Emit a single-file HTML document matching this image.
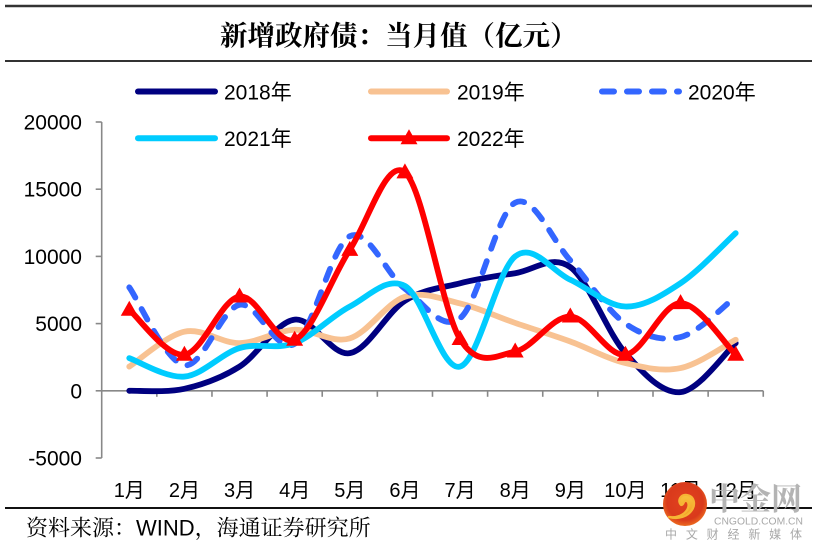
<!DOCTYPE html>
<html><head><meta charset="utf-8">
<style>
html,body{margin:0;padding:0;background:#fff;}
body{width:819px;height:552px;overflow:hidden;}
svg{display:block;}
.t{font-family:"Liberation Sans","Noto Sans CJK SC",sans-serif;fill:#000;}
</style></head>
<body>
<svg id="c" width="819" height="552" viewBox="0 0 819 552" xmlns="http://www.w3.org/2000/svg">
<defs>
<radialGradient id="lg" cx="50%" cy="45%" r="55%">
<stop offset="0%" stop-color="#e2421e"/>
<stop offset="75%" stop-color="#d93a1c"/>
<stop offset="100%" stop-color="#ec6a1f"/>
</radialGradient>
<linearGradient id="yg" x1="0" y1="0" x2="0" y2="1">
<stop offset="0%" stop-color="#f7c43e"/>
<stop offset="100%" stop-color="#f29a22"/>
</linearGradient>
</defs>
<rect width="819" height="552" fill="#fff"/>
<!-- frame lines -->
<line x1="5" y1="6" x2="812" y2="6" stroke="#333" stroke-width="2.5"/>
<line x1="5" y1="61" x2="812" y2="61" stroke="#333" stroke-width="2"/>
<line x1="5" y1="508" x2="812" y2="508" stroke="#111" stroke-width="2"/>
<!-- title -->
<text x="220" y="45" style="font-family:'Noto Serif CJK SC','Noto Sans CJK SC',serif;font-weight:bold;font-size:27.5px;fill:#000;">新增政府债：当月值（亿元）</text>
<!-- axes -->
<g id="axes" stroke="#888" stroke-width="1.6" fill="none"></g>
<g id="ylab"></g>
<g id="xlab"></g>
<g id="series"></g>
<!-- legend -->
<g id="legend"></g>
<!-- footer -->
<text x="26" y="535.5" style="font-family:'Liberation Sans','Noto Serif CJK SC',serif;font-size:22px;fill:#000;">资料来源：WIND，海通证券研究所</text>
<!-- watermark -->
<circle cx="685" cy="504" r="22" fill="url(#lg)"/>
<path d="M681,505 C677,500 681,494 687,495 C694,496 696,504 692,510 C688,516 679,520 669,517 C677,518 684,515 687,510 C690,505 688,500 685,501 C683,502 684,505 681,505 Z" fill="url(#yg)" stroke="#f6b535" stroke-width="2.2" stroke-linejoin="round"/>
<text x="709" y="510" style="font-family:'Noto Serif CJK SC','Noto Sans CJK SC',serif;font-weight:bold;font-size:31px;fill:#b4b4b4;">中金网</text>
<text x="714" y="524.5" textLength="89" lengthAdjust="spacingAndGlyphs" style="font-family:'Liberation Sans',sans-serif;font-size:10px;fill:#a8a8a8;">CNGOLD.COM.CN</text>
<text x="665" y="538.5" textLength="137" lengthAdjust="spacing" style="font-family:'Noto Sans CJK SC',sans-serif;font-size:12px;fill:#a8a8a8;">中文财经新媒体</text>
</svg>
<script>
(function(){
var NS="http://www.w3.org/2000/svg";
function el(tag,attrs,parent,txt){var e=document.createElementNS(NS,tag);for(var k in attrs)e.setAttribute(k,attrs[k]);if(txt!=null)e.textContent=txt;parent.appendChild(e);return e;}
var X0=101.7,CW=55.13,Y0=390.8,K=67.2/5000;
function cx(i){return X0+CW*(i+0.5);}
function cy(v){return Y0-v*K;}
var axes=document.getElementById('axes');
// y axis
el('line',{x1:X0,y1:cy(20000),x2:X0,y2:cy(-5000)},axes);
var ylab=document.getElementById('ylab');
for(var v=-5000;v<=20000;v+=5000){
  el('line',{x1:X0-6,y1:cy(v),x2:X0,y2:cy(v)},axes);
  el('text',{x:82,y:cy(v)+7.5,'text-anchor':'end','class':'t','font-size':'21'},ylab,String(v));
}
// x axis
var XE=X0+CW*12;
el('line',{x1:X0,y1:Y0,x2:XE,y2:Y0},axes);
for(var k=1;k<=12;k++){el('line',{x1:X0+CW*k,y1:Y0,x2:X0+CW*k,y2:Y0+6},axes);}
var xlab=document.getElementById('xlab');
for(var i=0;i<12;i++){el('text',{x:cx(i),y:497,'text-anchor':'middle','class':'t','font-size':'20'},xlab,(i+1)+'月');}
var data=[
 {c:'#000080',d:[0,150,1800,5300,2800,6700,8000,8750,9200,2800,-100,3550]},
 {c:'#F8C292',d:[1800,4400,3550,4540,3900,7000,6500,5050,3670,2060,1690,3800]},
 {c:'#3366FF',dash:true,d:[7700,1900,6400,3500,11500,7600,5400,14000,9700,5000,4000,7000]},
 {c:'#00CCFF',d:[2430,1060,3180,3550,6270,7800,1800,10000,8260,6270,8010,11730]},
 {c:'#FF0000',m:true,d:[6030,2680,7020,3800,10490,16250,3850,2920,5530,2680,6520,2680]}
];
var g=document.getElementById('series');
function pathFor(pts){
  var s='M'+pts[0][0].toFixed(2)+','+pts[0][1].toFixed(2);
  for(var i=0;i<pts.length-1;i++){
    var p0=pts[Math.max(i-1,0)],p1=pts[i],p2=pts[i+1],p3=pts[Math.min(i+2,pts.length-1)];
    var c1x=p1[0]+(p2[0]-p0[0])/6,c1y=p1[1]+(p2[1]-p0[1])/6;
    var c2x=p2[0]-(p3[0]-p1[0])/6,c2y=p2[1]-(p3[1]-p1[1])/6;
    s+=' C'+c1x.toFixed(2)+','+c1y.toFixed(2)+' '+c2x.toFixed(2)+','+c2y.toFixed(2)+' '+p2[0].toFixed(2)+','+p2[1].toFixed(2);
  }
  return s;
}
function tri(x,y,parent){
  el('polygon',{points:(x)+','+(y-9)+' '+(x-8.5)+','+(y+6)+' '+(x+8.5)+','+(y+6),fill:'#FF0000'},parent);
}
data.forEach(function(s){
  var pts=s.d.map(function(v,i){return [cx(i),cy(v)];});
  var a={d:pathFor(pts),fill:'none',stroke:s.c,'stroke-width':'5.8','stroke-linecap':'round','stroke-linejoin':'round'};
  if(s.dash){a['stroke-dasharray']='12 13';}
  el('path',a,g);
  if(s.m){pts.forEach(function(p){tri(p[0],p[1],g);});}
});
// legend
var L=document.getElementById('legend');
function leg(x1,x2,y,c,dash,label,tx,ty,marker){
  var a={x1:x1,y1:y,x2:x2,y2:y,stroke:c,'stroke-width':'6','stroke-linecap':'round'};
  if(dash)a['stroke-dasharray']='12 13';
  el('line',a,L);
  if(marker)tri((x1+x2)/2,y,L);
  el('text',{x:tx,y:ty,'class':'t','font-size':'21'},L,label);
}
leg(138,215,91.5,'#000080',false,'2018年',224,99.3);
leg(371,447,91.5,'#F8C292',false,'2019年',457,99.3);
leg(602,679,91.5,'#3366FF',true,'2020年',688,99.3);
leg(138,215,138.3,'#00CCFF',false,'2021年',224,146.2);
leg(371,447,138.3,'#FF0000',false,'2022年',457,146.2,true);
// bring watermark above axis labels: move series/legend earlier already; ensure logo on top
var svg=document.getElementById('c');
var nodes=[].slice.call(svg.querySelectorAll('circle, path[fill^="url"], text[style*="b4b4b4"], text[style*="a8a8a8"]'));
nodes.forEach(function(n){svg.appendChild(n);});
})();
</script>
</body></html>
